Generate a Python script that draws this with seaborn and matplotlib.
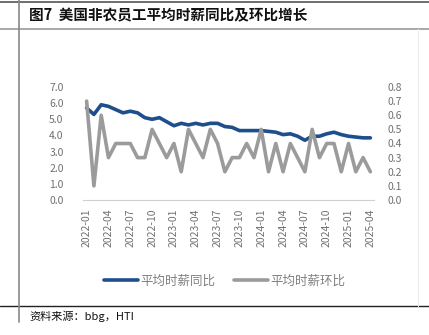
import matplotlib
matplotlib.use("Agg")
import matplotlib.pyplot as plt
import seaborn as sns
import pandas as pd
from matplotlib.lines import Line2D
from matplotlib.ticker import FormatStrFormatter

# ---- data ----
months = [str(p) for p in pd.period_range("2022-01", "2025-04", freq="M")]
yoy = [5.7, 5.3, 5.9, 5.8, 5.6, 5.4, 5.5, 5.4, 5.1, 5.0,
       5.1, 4.85, 4.6, 4.75, 4.65, 4.75, 4.65, 4.75, 4.75, 4.55,
       4.5, 4.3, 4.3, 4.3, 4.3, 4.25, 4.2, 4.05, 4.1, 3.95,
       3.7, 3.95, 3.95, 4.1, 4.2, 4.05, 3.95, 3.9, 3.85, 3.85]
mom = [0.7, 0.1, 0.6, 0.3, 0.4, 0.4, 0.4, 0.3, 0.3, 0.5,
       0.4, 0.3, 0.4, 0.2, 0.5, 0.4, 0.3, 0.5, 0.4, 0.2,
       0.3, 0.3, 0.4, 0.3, 0.5, 0.2, 0.4, 0.2, 0.4, 0.3,
       0.2, 0.5, 0.3, 0.4, 0.4, 0.2, 0.4, 0.2, 0.3, 0.2]
label_yoy = "平均时薪同比"
label_mom = "平均时薪环比"
title = "图7  美国非农员工平均时薪同比及环比增长"
source = "资料来源：bbg，HTI"

df = pd.DataFrame({"pos": range(len(months)), "month": months, "yoy": yoy, "mom": mom})

sns.set_style("white")
plt.rcParams["font.family"] = ["Noto Sans CJK SC", "DejaVu Sans"]

W, H = 429, 335
fig = plt.figure(figsize=(W / 100, H / 100), dpi=100)
blue = "#1F4E8C"
gray = "#9B9B9B"
tick_color = "#707070"

ax = fig.add_axes([83 / W, 1 - 200 / H, (374 - 83) / W, 113 / H])
sns.lineplot(data=df, x="pos", y="yoy", ax=ax, color=blue, lw=2.6, legend=False)
ax2 = ax.twinx()
sns.lineplot(data=df, x="pos", y="mom", ax=ax2, color=gray, lw=2.6, legend=False)

ax.set_xlim(-0.5, len(months) - 0.5)
ax.set_ylim(0, 7)
ax2.set_ylim(0, 0.8)
ax.set_yticks([0, 1, 2, 3, 4, 5, 6, 7])
ax2.set_yticks([0, 0.1, 0.2, 0.3, 0.4, 0.5, 0.6, 0.7, 0.8])
ax.yaxis.set_major_formatter(FormatStrFormatter("%.1f"))
ax2.yaxis.set_major_formatter(FormatStrFormatter("%.1f"))

ax.set_xticks(df["pos"][::3])
ax.set_xticklabels(df["month"][::3], rotation=90)
minor = [p - 0.5 for p in df["pos"][::3]] + [len(months) - 0.5]
ax.set_xticks(minor, minor=True)
ax.tick_params(axis="x", which="major", length=0, pad=6, labelsize=7.5, labelcolor=tick_color)
ax.tick_params(axis="x", which="minor", length=4, color="#D0D0D0", width=0.8)
ax.tick_params(axis="y", length=0, pad=14, labelsize=7.5, labelcolor=tick_color)
ax2.tick_params(axis="y", length=0, pad=10, labelsize=7.5, labelcolor=tick_color)

for a in (ax, ax2):
    a.set_xlabel("")
    a.set_ylabel("")
    for s in ("top", "left", "right", "bottom"):
        a.spines[s].set_visible(False)
ax.spines["bottom"].set_visible(True)
ax.spines["bottom"].set_color("#D0D0D0")
ax.spines["bottom"].set_linewidth(0.8)

handles = [Line2D([], [], color=blue, lw=2.6), Line2D([], [], color=gray, lw=2.6)]
fig.legend(handles, [label_yoy, label_mom], loc="center",
           bbox_to_anchor=(225 / W, 1 - 281 / H), ncol=2, frameon=False,
           fontsize=9, handlelength=2.7, handletextpad=0.2, columnspacing=1.5,
           labelcolor="#808080")

fig.text(29 / W, 1 - 15 / H, title, fontsize=10.5, fontweight="bold", va="center", color="#111111")
fig.text(29 / W, 1 - 316 / H, source, fontsize=8, va="center", color="#111111")

# frame lines
def fline(x0, y0, x1, y1, color, lw):
    fig.add_artist(Line2D([x0 / W, x1 / W], [1 - y0 / H, 1 - y1 / H],
                          transform=fig.transFigure, color=color, lw=lw))

fline(0, 1.5, W, 1.5, "#555555", 1.2)
fline(0, 29, W, 29, "#999999", 1.2)
fline(0, 306, W, 306, "#222222", 1.0)
fline(19, 0, 19, 322, "#888888", 1.2)
fline(418, 29, 418, 306, "#EEEEEE", 0.8)

fig.savefig("out.png", dpi=100)
